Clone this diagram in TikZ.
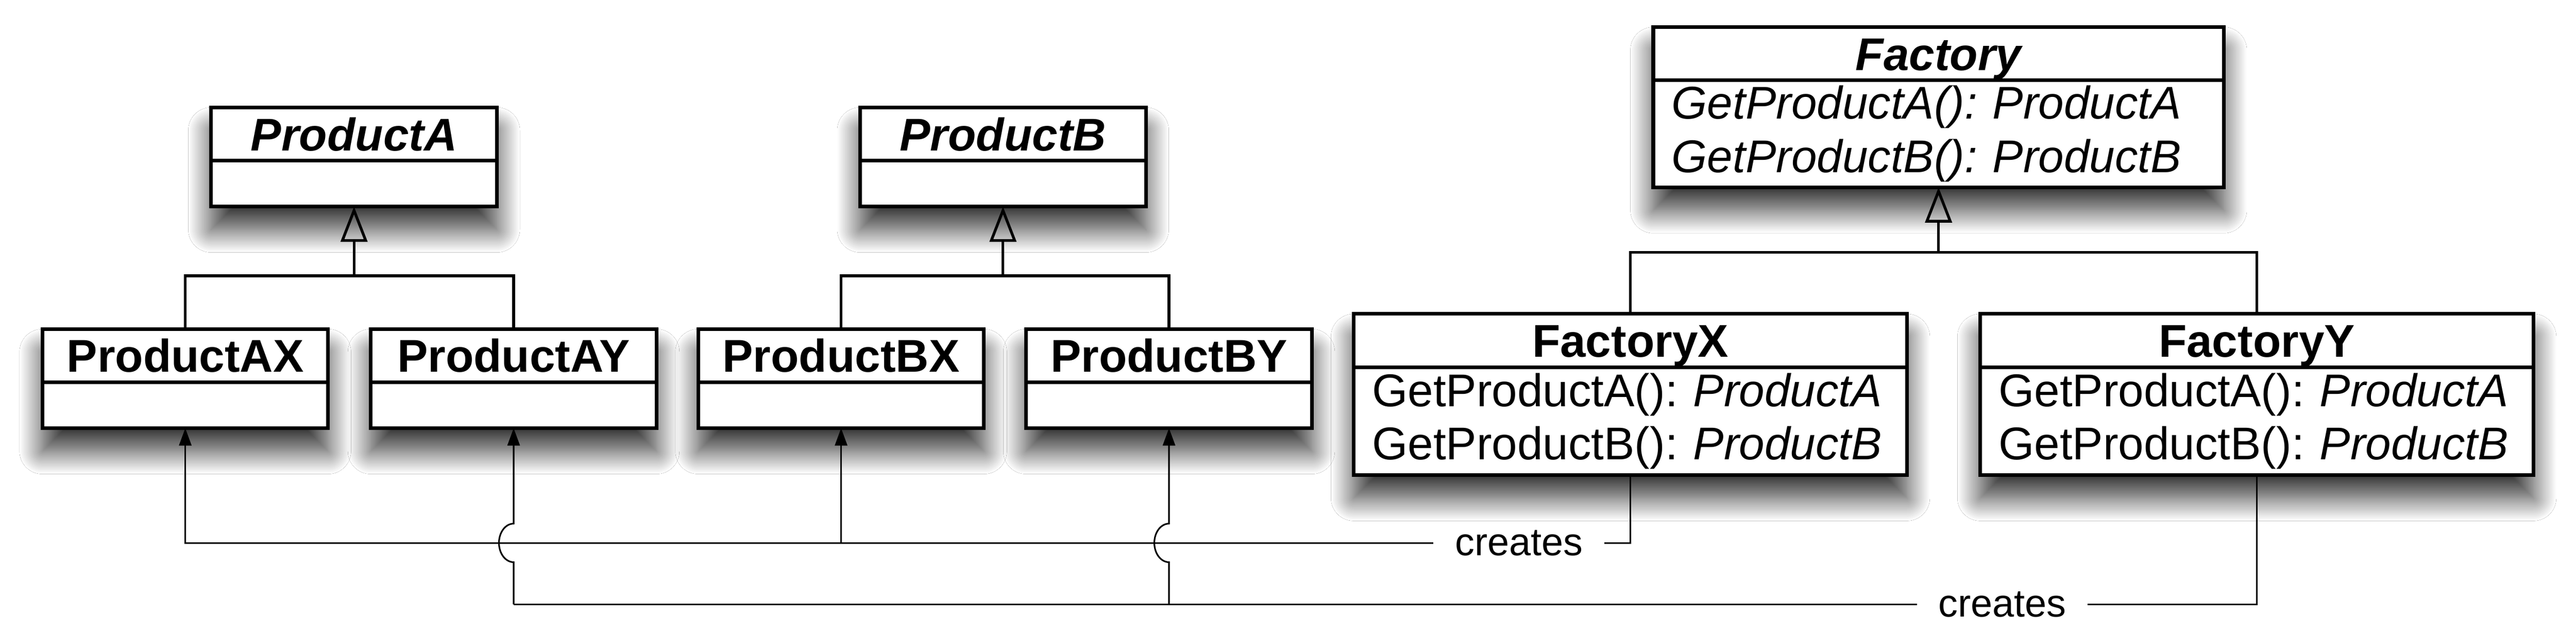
\documentclass[tikz,border=0pt]{standalone}
\usepackage{fontspec}
\setmainfont{Liberation Sans}
\usetikzlibrary{arrows.meta,positioning,backgrounds,shadows.blur}

\begin{document}
\begin{tikzpicture}[x=1pt,y=1pt]
    \tikzset { classhead/.style = { draw, fill=white, line width=0.8pt, minimum width=#1, minimum height=11.6pt, inner sep=0pt, outer sep=0pt, text height=7.2pt, text depth=0pt, font=\bfseries } }
    \tikzset { abstract/.style = { font=\bfseries\itshape } }
    \tikzset { classbody/.style = { draw, fill=white, line width=0.8pt, minimum width=#1, minimum height=10pt, inner xsep=4pt, inner ysep=0pt, outer sep=0pt, align=left, font=\fontsize{10}{11.6}\selectfont\frenchspacing } }
    \tikzset { generalize/.style = { -{Triangle[open,length=7.7pt,width=5.8pt]}, line width=0.6pt } }
    \tikzset { branch/.style = { line width=0.6pt } }
    \tikzset { createline/.style = { line width=0.35pt } }
    \tikzset { createarrow/.style = { createline, -{Triangle[length=3.8pt,width=2.7pt]} } }
    \tikzset { createlabel/.style = { fill=white, inner xsep=4.5pt, inner ysep=1pt, font=\fontsize{8.5}{10}\selectfont } }
    \tikzset { boxshadow/.style = { blur shadow={shadow xshift=0pt, shadow yshift=-5pt, shadow blur radius=5pt, shadow blur steps=30, shadow opacity=80} } }

    \useasboundingbox (0,0) rectangle (561.7,-137.5);

    % products
    \node[classhead=62.3pt, abstract] (prodA) at (77.2,-29.2) {ProductA};
    \node[classbody=62.3pt, below=0pt of prodA] (prodA-ops) {};
    \node[classhead=62.3pt, abstract] (prodB) at (218.7,-29.2) {ProductB};
    \node[classbody=62.3pt, below=0pt of prodB] (prodB-ops) {};

    \node[classhead=62.3pt] (prodAX) at (40.4,-77.5) {ProductAX};
    \node[classbody=62.3pt, below=0pt of prodAX] (prodAX-ops) {};
    \node[classhead=62.3pt] (prodAY) at (112.0,-77.5) {ProductAY};
    \node[classbody=62.3pt, below=0pt of prodAY] (prodAY-ops) {};
    \node[classhead=62.3pt] (prodBX) at (183.4,-77.5) {ProductBX};
    \node[classbody=62.3pt, below=0pt of prodBX] (prodBX-ops) {};
    \node[classhead=62.3pt] (prodBY) at (254.9,-77.5) {ProductBY};
    \node[classbody=62.3pt, below=0pt of prodBY] (prodBY-ops) {};

    % factories
    \node[classhead=124.4pt, abstract] (fac) at (422.7,-11.7) {Factory};
    \node[classbody=124.4pt, minimum height=23.3pt, text width=116.4pt, below=0pt of fac,
          font=\fontsize{10}{11.6}\selectfont\frenchspacing\itshape] (fac-ops)
          {\mbox{GetProductA(): ProductA}\\\mbox{GetProductB(): ProductB}};

    \node[classhead=120.6pt] (facX) at (355.5,-74.2) {FactoryX};
    \node[classbody=120.6pt, minimum height=23.5pt, text width=112.6pt, below=0pt of facX] (facX-ops)
          {\mbox{GetProductA(): \textit{ProductA}}\\\mbox{GetProductB(): \textit{ProductB}}};
    \node[classhead=120.6pt] (facY) at (492.1,-74.2) {FactoryY};
    \node[classbody=120.6pt, minimum height=23.5pt, text width=112.6pt, below=0pt of facY] (facY-ops)
          {\mbox{GetProductA(): \textit{ProductA}}\\\mbox{GetProductB(): \textit{ProductB}}};

    % generalization
    \coordinate (barA) at (0,-60.1);
    \coordinate (barB) at (0,-60.1);
    \coordinate (barF) at (0,-55.0);
    \draw[branch] (prodAX.north) |- (prodAY.north |- barA) -- (prodAY.north);
    \draw[generalize] (prodA-ops.south |- barA) -- (prodA-ops.south);
    \draw[branch] (prodBX.north) |- (prodBY.north |- barB) -- (prodBY.north);
    \draw[generalize] (prodB-ops.south |- barB) -- (prodB-ops.south);
    \draw[branch] (facX.north) |- (facY.north |- barF) -- (facY.north);
    \draw[generalize] (fac-ops.south |- barF) -- (fac-ops.south);

    % creates
    \node[createlabel] (createsX) at (331.2,-118.3) {creates};
    \node[createlabel] (createsY) at (436.6,-131.7) {creates};

    \draw[createline] (facX-ops.south) |- (createsX.east);
    \draw[createarrow] (createsX.west) -| (prodAX-ops.south);
    \draw[createarrow] (prodBX-ops.south |- createsX) -- (prodBX-ops.south);

    \draw[createline] (facY-ops.south) |- (createsY.east);
    \draw[createline] (createsY.west) -- (prodAY-ops.south |- createsY);
    \draw[createarrow] (prodAY-ops.south |- createsY) -- ++(0,9.2)
        arc[start angle=-90, end angle=-270, x radius=3.2, y radius=4.2] -- (prodAY-ops.south);
    \draw[createarrow] (prodBY-ops.south |- createsY) -- ++(0,9.2)
        arc[start angle=-90, end angle=-270, x radius=3.2, y radius=4.2] -- (prodBY-ops.south);

    \begin{scope}[on background layer]
      \fill[white] (0,0) rectangle (561.7,-137.5);
      \foreach \c in {prodA,prodB,prodAX,prodAY,prodBX,prodBY,fac,facX,facY}
        \fill[white, boxshadow] (\c.north west) rectangle (\c-ops.south east);
    \end{scope}
\end{tikzpicture}
\end{document}
